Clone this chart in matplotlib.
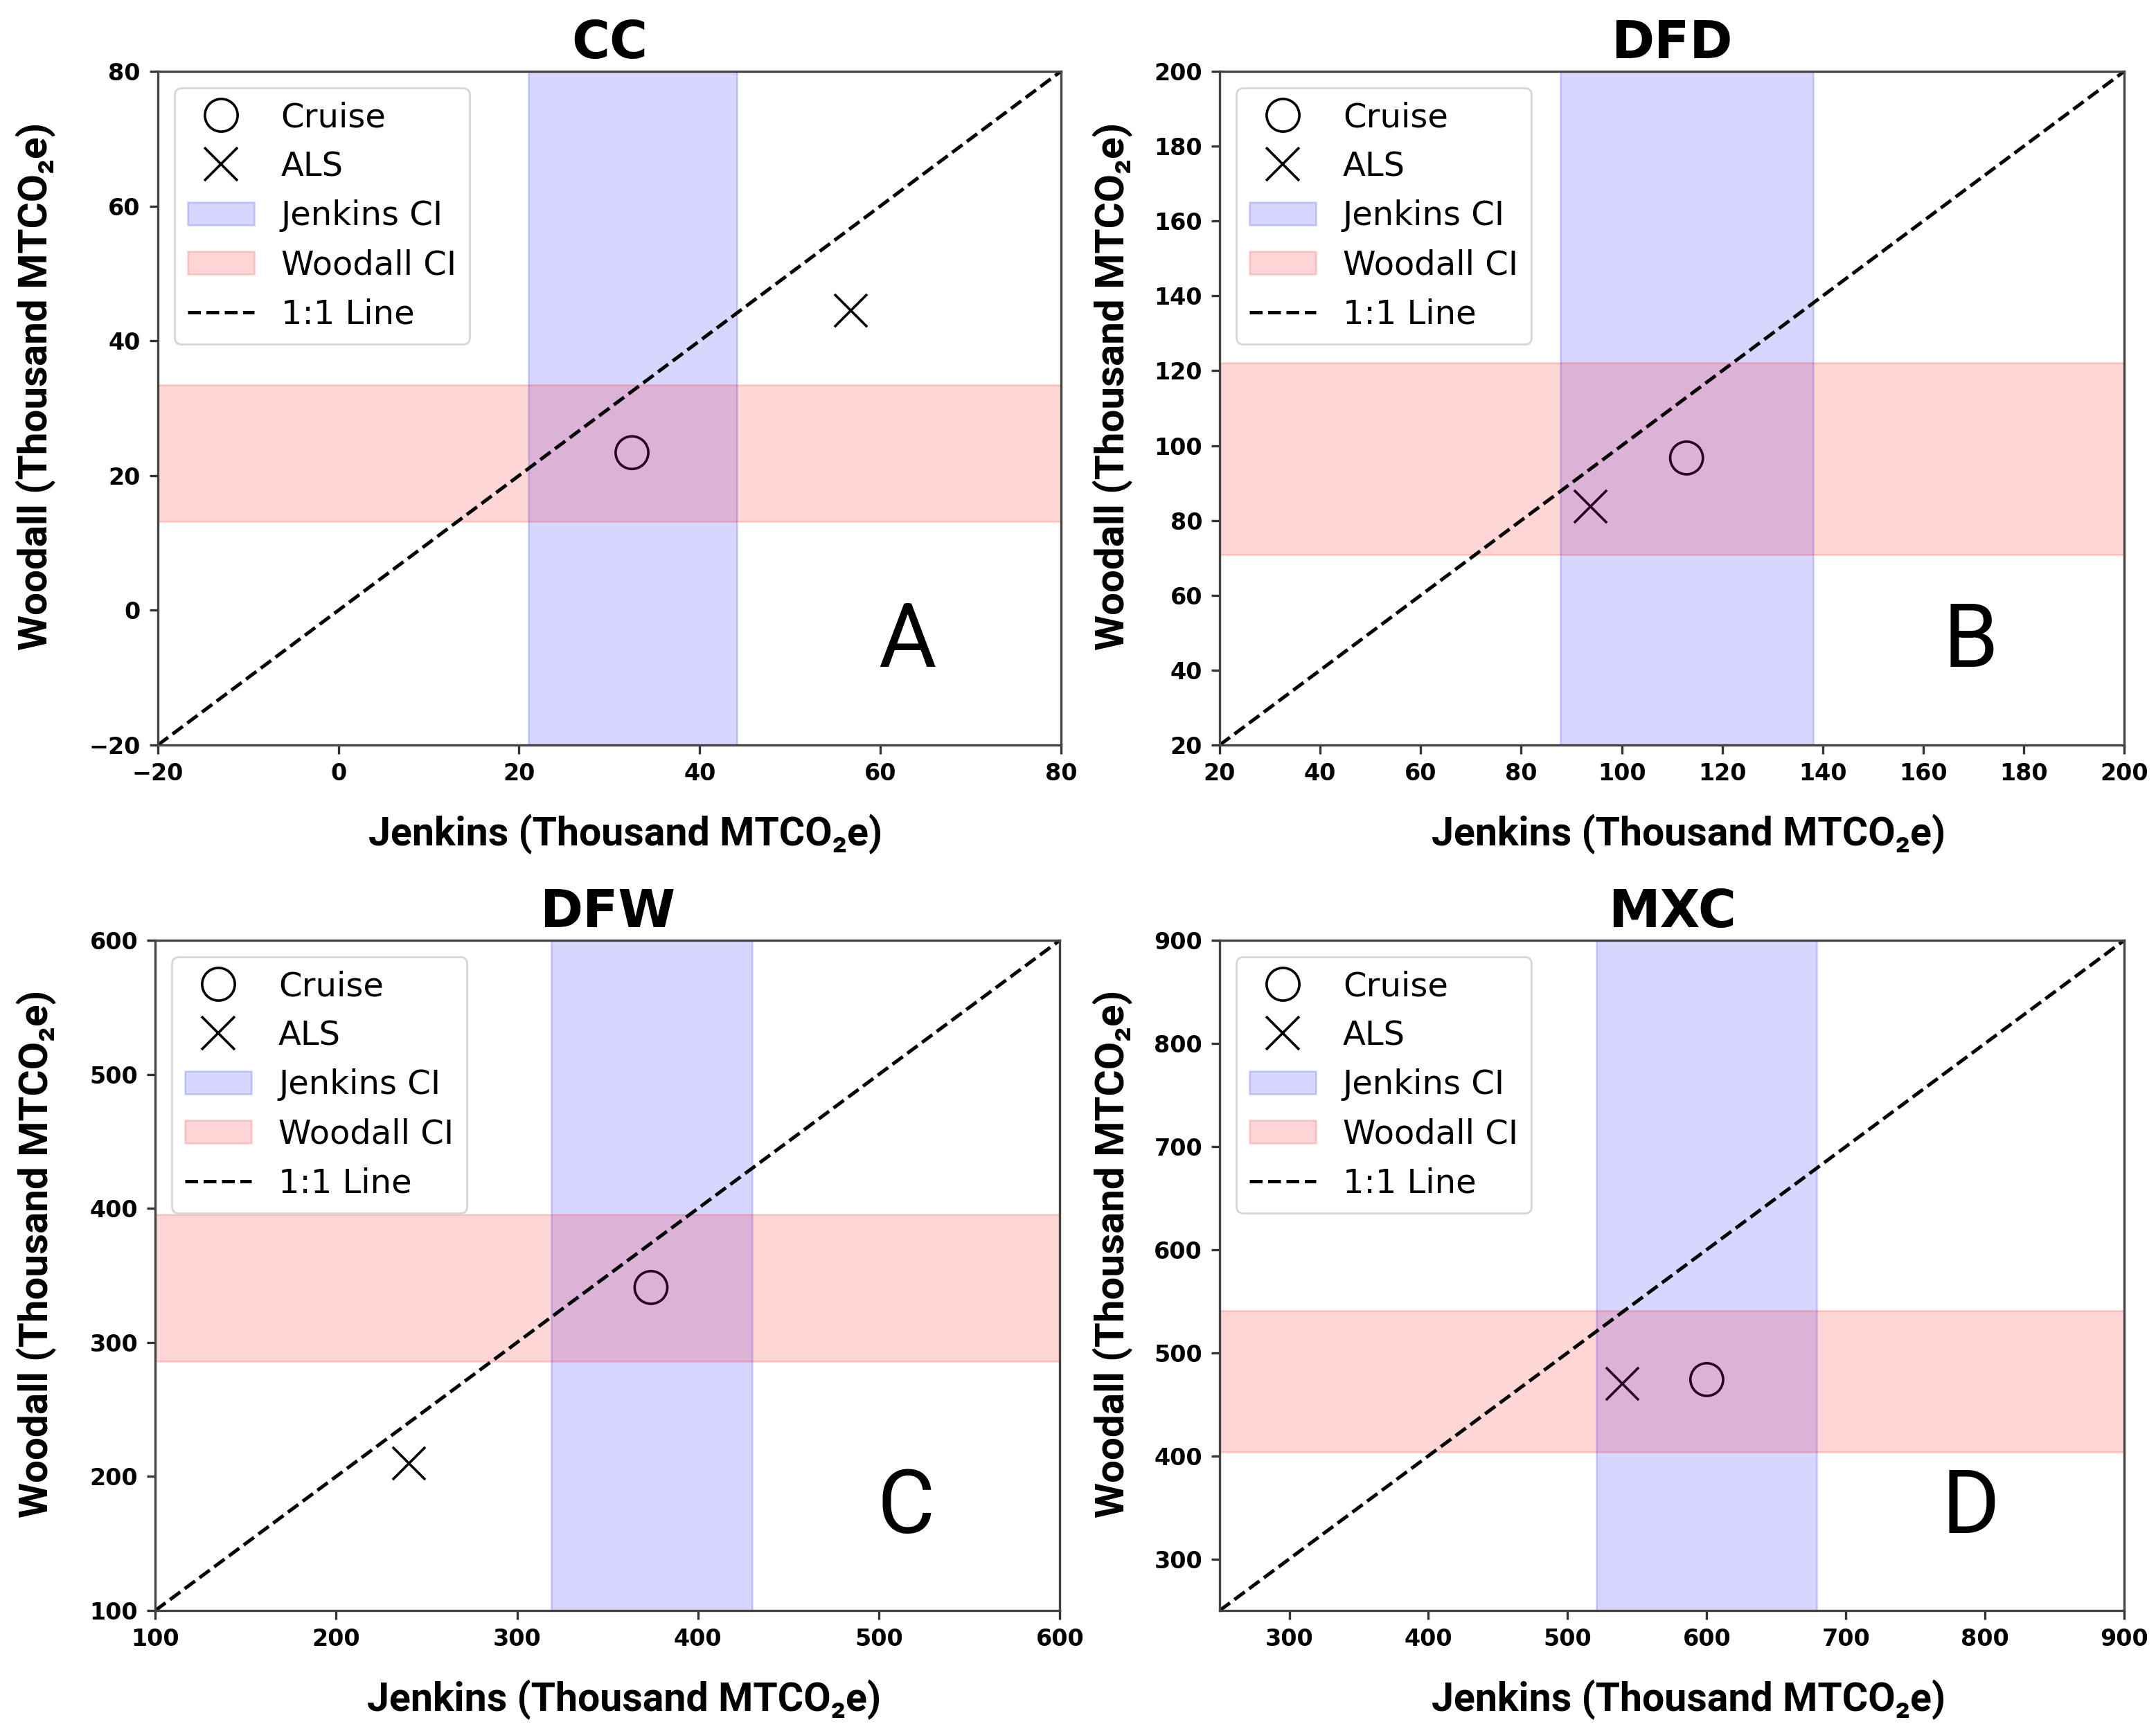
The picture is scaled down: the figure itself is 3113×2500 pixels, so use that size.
import matplotlib
matplotlib.use("Agg")
import matplotlib.pyplot as plt
from matplotlib.lines import Line2D

# ---------------- data ----------------
panel_titles = ["CC", "DFD", "DFW", "MXC"]
panel_letters = ["A", "B", "C", "D"]
axis_min = [-20, 20, 100, 250]
axis_max = [80, 200, 600, 900]
x_ticks = [[-20, 0, 20, 40, 60, 80],
           [20, 40, 60, 80, 100, 120, 140, 160, 180, 200],
           [100, 200, 300, 400, 500, 600],
           [300, 400, 500, 600, 700, 800, 900]]
y_ticks = [[-20, 0, 20, 40, 60, 80],
           [20, 40, 60, 80, 100, 120, 140, 160, 180, 200],
           [100, 200, 300, 400, 500, 600],
           [300, 400, 500, 600, 700, 800, 900]]

cruise_jenkins = [32.5, 112.9, 374, 600]
cruise_woodall = [23.4, 96.7, 341, 474]
als_jenkins = [56.7, 93.7, 240, 539]
als_woodall = [44.5, 83.9, 210, 470]
jenkins_ci_low = [21.0, 87.8, 319, 520.5]
jenkins_ci_high = [44.1, 138.1, 430, 679]
woodall_ci_low = [13.2, 70.9, 286, 403.5]
woodall_ci_high = [33.4, 122.2, 395.5, 540.5]

x_label = "Jenkins (Thousand MTCO\u2082e)"
y_label = "Woodall (Thousand MTCO\u2082e)"

# ---------------- layout ----------------
fig = plt.figure(figsize=(15.565, 12.5), dpi=200)
positions = [[0.0732, 0.5696, 0.4189, 0.3892],
             [0.5657, 0.5696, 0.4196, 0.3892],
             [0.0720, 0.0696, 0.4196, 0.3872],
             [0.5657, 0.0696, 0.4196, 0.3872]]
ylabel_pads = [17, 11, 17, 11]

label_font = ["Roboto", "DejaVu Sans"]
ms = 17

for i in range(4):
    ax = fig.add_axes(positions[i])
    lo, hi = axis_min[i], axis_max[i]

    ax.scatter([cruise_jenkins[i]], [cruise_woodall[i]], s=ms ** 2, marker="o",
               facecolors="none", edgecolors="black", linewidths=1.3, zorder=1)
    ax.scatter([als_jenkins[i]], [als_woodall[i]], s=ms ** 2, marker="x",
               color="black", linewidths=1.3, zorder=1)
    ax.axvspan(jenkins_ci_low[i], jenkins_ci_high[i], color="blue", alpha=0.16, zorder=1)
    ax.axhspan(woodall_ci_low[i], woodall_ci_high[i], color="red", alpha=0.16, zorder=1)
    ax.plot([lo, hi], [lo, hi], "k--", lw=1.8, zorder=2)

    ax.set_xlim(lo, hi)
    ax.set_ylim(lo, hi)
    ax.set_xticks(x_ticks[i])
    ax.set_yticks(y_ticks[i])
    ax.tick_params(length=4.5, width=1.2, pad=4.5, colors="#333333", labelcolor="black")
    for sp in ax.spines.values():
        sp.set_linewidth(1.2)
        sp.set_color("#444444")
    for lab in ax.get_xticklabels() + ax.get_yticklabels():
        lab.set_fontweight("bold")
        lab.set_fontsize(12)

    ax.set_title(panel_titles[i], fontsize=27, fontweight="bold",
                 family="DejaVu Sans", pad=7)
    ax.set_xlabel(x_label, fontsize=20.6, fontweight="bold", family=label_font, labelpad=15)
    ax.set_ylabel(y_label, fontsize=21, fontweight="bold", family=label_font,
                  labelpad=ylabel_pads[i])
    ax.xaxis.label.set_x(0.518)
    ax.yaxis.label.set_y(0.532)

    ax.text(0.83, 0.152, panel_letters[i], transform=ax.transAxes, ha="center",
            va="center", fontsize=46, family=label_font)

    handles = [
        Line2D([], [], marker="o", ls="none", markerfacecolor="none",
               markeredgecolor="black", markersize=ms, markeredgewidth=1.3),
        Line2D([], [], marker="x", ls="none", color="black",
               markersize=ms, markeredgewidth=1.3),
        plt.Rectangle((0, 0), 1, 1, color="blue", alpha=0.16),
        plt.Rectangle((0, 0), 1, 1, color="red", alpha=0.16),
        Line2D([], [], color="black", ls="--", lw=1.8),
    ]
    labels = ["Cruise", "ALS", "Jenkins CI", "Woodall CI", "1:1 Line"]
    ax.legend(handles, labels, loc="upper left", fontsize=17.3, labelspacing=0.5)

fig.savefig("out.png", dpi=200)
